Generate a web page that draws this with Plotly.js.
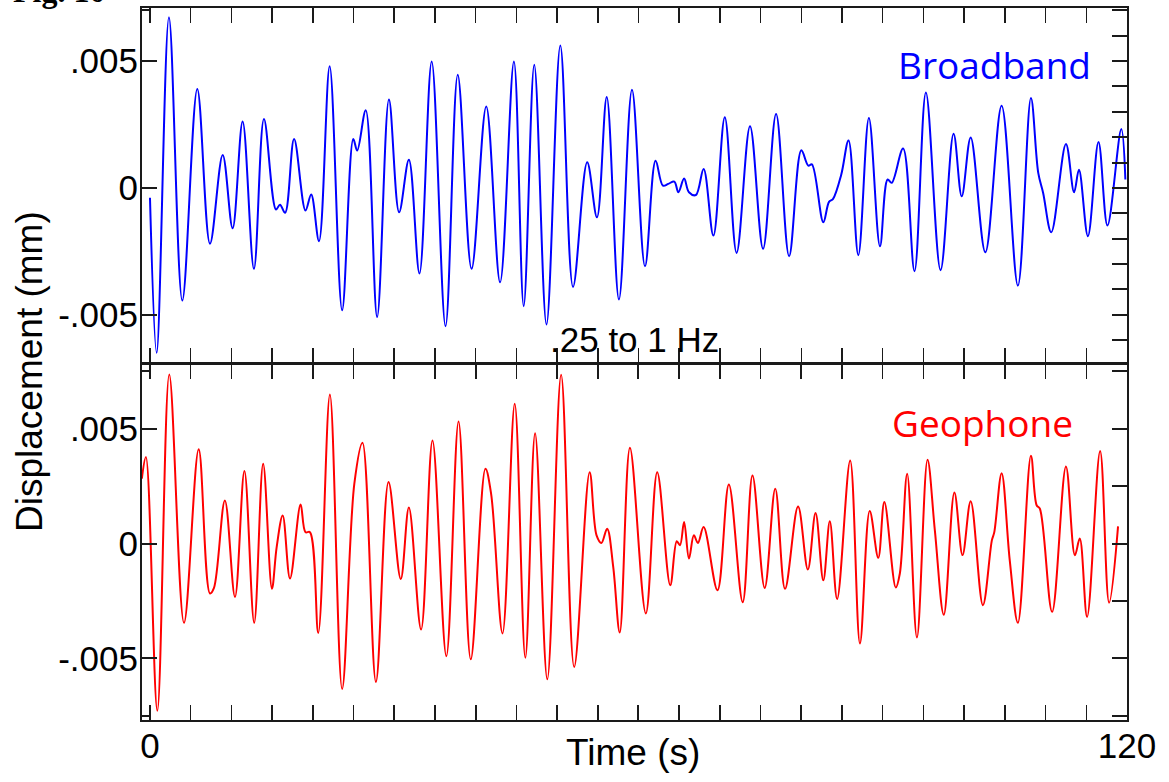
<!DOCTYPE html>
<html>
<head>
<meta charset="utf-8">
<script src="https://cdn.plot.ly/plotly-3.0.1.min.js"></script>
<style>
  html, body { margin: 0; padding: 0; background: #ffffff; }
  #chart { width: 1169px; height: 782px; }
</style>
</head>
<body>
<div id="chart"></div>
<script>
// Broadband seismometer record, 0.25–1 Hz band: time (s) and displacement (mm)
const broadbandTime = [
  0, 0.82, 2.33, 3.97, 5.81, 7.37, 8.93, 10.15, 11.38, 12.77,
  14.0, 15.48, 15.97, 16.6, 17.7, 19.1, 19.8, 20.76, 22.07, 23.6,
  24.97, 25.45, 26.5, 27.9, 29.35, 30.6, 31.8, 33.1, 34.6, 36.3,
  37.8, 39.5, 41.3, 43.0, 44.7, 45.9, 47.2, 48.7, 50.4, 51.96,
  53.7, 54.9, 56.1, 57.6, 59.2, 60.8, 62.1, 63.0, 63.66, 64.4,
  64.9, 65.6, 66.2, 67.05, 68.0, 69.2, 70.6, 72.05, 73.7, 75.3,
  76.9, 78.5, 80.0, 80.85, 81.3, 82.7, 83.4, 83.9, 84.9, 85.8,
  87.0, 88.3, 89.66, 90.6, 91.1, 92.5, 93.9, 95.3, 97.1, 98.7,
  99.7, 100.8, 102.6, 104.6, 106.6, 108.2, 109.1, 109.7, 110.7, 112.5,
  113.5, 114.1, 115.2, 116.5, 117.6, 119.3, 119.8
];
const broadbandDisp = [
  -0.00039, -0.0065, 0.00673, -0.00444, 0.0039, -0.0022, 0.0013, -0.00159, 0.00262, -0.00319,
  0.00272, -0.00085, -0.00066, -0.00098, 0.00193, -0.00089, -0.00026, -0.0021, 0.00479, -0.00482,
  0.00193, 0.00147, 0.00306, -0.00509, 0.00348, -0.00096, 0.00111, -0.00337, 0.00498, -0.00545,
  0.00446, -0.00319, 0.00321, -0.00372, 0.00498, -0.00466, 0.00485, -0.00538, 0.00561, -0.0039,
  0.00101, -0.00116, 0.00358, -0.0044, 0.00387, -0.00309, 0.00107, 0.00009, 0.00016, 0.00025,
  -0.00017, 0.00037, -0.00017, -0.00028, 0.00075, -0.00188, 0.00278, -0.00256, 0.00243, -0.0024,
  0.00291, -0.00269, 0.00148, 0.00088, 0.00093, -0.00135, -0.00055, -0.00043, 0.00052, 0.00187,
  -0.00265, 0.00276, -0.0023, 0.00033, 0.0002, 0.00155, -0.00328, 0.00376, -0.00324, 0.00213,
  -0.00033, 0.00199, -0.00254, 0.00324, -0.00385, 0.00354, 0.00059, -0.0002, -0.00175, 0.00173,
  -0.00017, 0.00072, -0.0019, 0.00181, -0.00148, 0.00232, 0.00033
];

// Geophone record over the same window
const geophoneTime = [
  -1.0, -0.5, 0.9, 2.37, 4.18, 5.98, 7.37, 7.86, 9.2, 10.44,
  11.6, 12.8, 13.9, 14.98, 15.56, 16.3, 17.2, 18.5, 19.1, 19.65,
  20.67, 22.1, 23.6, 25.1, 26.1, 27.75, 29.3, 30.8, 31.8, 33.3,
  34.7, 36.4, 37.9, 39.4, 41.2, 41.9, 43.3, 44.8, 46.1, 47.3,
  48.8, 50.5, 52.1, 54.0, 54.85, 55.45, 56.15, 56.9, 57.7, 58.95,
  60.9, 62.3, 63.9, 64.7, 65.1, 65.6, 66.2, 66.8, 67.3, 68.0,
  69.7, 71.1, 72.8, 74.0, 75.5, 76.8, 78.0, 79.6, 80.8, 81.75,
  82.7, 83.5, 84.4, 86.0, 87.2, 88.4, 89.45, 90.2, 91.6, 92.1,
  93.0, 94.2, 95.5, 96.4, 97.5, 98.8, 99.8, 100.8, 102.3, 103.4,
  103.7, 104.6, 105.6, 106.6, 108.2, 108.9, 109.3, 110.8, 112.5, 113.6,
  114.2, 115.1, 116.7, 117.8, 118.9
];
const geophoneDisp = [
  0.00283, 0.00377, -0.00728, 0.00736, -0.00345, 0.00411, -0.00217, -0.00193, 0.00188, -0.00232,
  0.00316, -0.00345, 0.00348, -0.00196, -0.00015, 0.00122, -0.00152, 0.0017, 0.0005, 0.0005,
  -0.00389, 0.00649, -0.00633, 0.00261, 0.00439, -0.00602, 0.00268, -0.00154, 0.00157, -0.00374,
  0.00449, -0.0049, 0.00532, -0.00504, 0.00326, 0.00217, -0.00391, 0.00609, -0.00497, 0.00481,
  -0.00591, 0.00735, -0.00537, 0.00311, 0.00036, 0.00003, 0.00065, -0.00102, -0.00387, 0.00417,
  -0.00304, 0.00311, -0.00181, 0.0001, -0.00007, 0.00094, -0.00065, 0.00036, 0.00003, 0.00072,
  -0.00203, 0.00258, -0.00255, 0.00297, -0.00193, 0.00239, -0.00197, 0.00162, -0.00113, 0.00133,
  -0.0016, 0.00097, -0.00241, 0.00362, -0.00435, 0.00142, -0.00062, 0.00181, -0.00191, -0.0013,
  0.00304, -0.00409, 0.00365, 0.00058, -0.0031, 0.00223, -0.0005, 0.00185, -0.00268, 0.00014,
  0.0005, 0.00307, -0.00073, -0.00345, 0.00383, 0.00167, 0.00152, -0.00297, 0.00336, -0.00051,
  0.00022, -0.00319, 0.00403, -0.00257, 0.00075
];

// Axis ticks and labels
const timeTicks = [0, 20, 40, 60, 80, 100, 120];
const timeTickText = ['0', '', '', '', '', '', '120'];
const dispTicks = [-0.005, 0, 0.005];
const dispTickText = ['-.005', '0', '.005'];

const INK = '#1a1a1a';
const LABEL_FONT = { family: 'Liberation Sans, Arial, sans-serif', size: 35, color: '#000' };

const traces = [
  {
    x: broadbandTime, y: broadbandDisp, xaxis: 'x', yaxis: 'y',
    type: 'scatter', mode: 'lines',
    line: { color: '#0000ff', width: 2, shape: 'spline', smoothing: 1 },
    hoverinfo: 'skip', showlegend: false
  },
  {
    x: geophoneTime, y: geophoneDisp, xaxis: 'x2', yaxis: 'y2',
    type: 'scatter', mode: 'lines',
    line: { color: '#ff0000', width: 2, shape: 'spline', smoothing: 1 },
    hoverinfo: 'skip', showlegend: false
  },
  // empty traces so the right-hand tick axes get their own subplots
  { x: [], y: [], xaxis: 'x', yaxis: 'y3', type: 'scatter', mode: 'lines', showlegend: false, hoverinfo: 'skip' },
  { x: [], y: [], xaxis: 'x2', yaxis: 'y4', type: 'scatter', mode: 'lines', showlegend: false, hoverinfo: 'skip' }
];

const xRange = [-0.98, 120];
const topRange = [-0.00688, 0.00709];
const botRange = [-0.00768, 0.0078];
// the two panels overlap slightly so their shared frame edge is one line
const topDomain = [0.5021, 1];
const botDomain = [0, 0.4993];

function timeAxis(anchor, labels) {
  return {
    anchor: anchor, domain: [0, 1], range: xRange,
    tickmode: 'array', tickvals: timeTicks, ticktext: timeTickText,
    showticklabels: labels, tickfont: LABEL_FONT, ticklabelstandoff: -6,
    ticks: 'inside', ticklen: 15, tickwidth: 2, tickcolor: INK,
    minor: { tickmode: 'linear', tick0: 0, dtick: 5, ticks: 'inside', ticklen: 8, tickwidth: 1.5, tickcolor: INK, showgrid: false },
    showline: true, linewidth: 2, linecolor: INK, mirror: 'allticks',
    showgrid: false, zeroline: false, fixedrange: true
  };
}

function dispAxis(anchor, domain, range, edgeTicks) {
  return {
    anchor: anchor, domain: domain, range: range,
    tickmode: 'array', tickvals: dispTicks, ticktext: dispTickText,
    tickfont: LABEL_FONT, ticklabelstandoff: -5,
    ticks: 'inside', ticklen: 15, tickwidth: 2, tickcolor: INK,
    minor: { tickmode: 'array', tickvals: edgeTicks, ticks: 'inside', ticklen: 7, tickwidth: 2, tickcolor: INK, showgrid: false },
    showline: true, linewidth: 2, linecolor: INK, mirror: true,
    showgrid: false, zeroline: false, fixedrange: true
  };
}

function rightTicks(over, anchor, range, step) {
  return {
    overlaying: over, anchor: anchor, side: 'right', range: range,
    tickmode: 'linear', tick0: 0, dtick: step,
    ticks: 'inside', ticklen: 15, tickwidth: 2, tickcolor: INK,
    showticklabels: false, showline: false, showgrid: false, zeroline: false, fixedrange: true
  };
}

const layout = {
  width: 1169, height: 782,
  margin: { l: 142, r: 42, t: 8, b: 62, pad: 0 },
  paper_bgcolor: '#ffffff', plot_bgcolor: '#ffffff',
  showlegend: false,
  xaxis: timeAxis('y', false),
  xaxis2: Object.assign(timeAxis('y2', true), { matches: 'x' }),
  yaxis: dispAxis('x', topDomain, topRange, [0.007]),
  yaxis2: dispAxis('x2', botDomain, botRange, [0.0075, -0.0075]),
  yaxis3: rightTicks('y', 'x', topRange, 0.001),
  yaxis4: rightTicks('y2', 'x2', botRange, 0.0025),
  annotations: [
    // figure caption, running off the top edge of the page
    { text: '<b>Fig. 10</b>', xref: 'paper', yref: 'paper', x: -0.133, y: 0.9958,
      xanchor: 'left', yanchor: 'bottom', showarrow: false,
      font: { family: 'Liberation Serif, Times New Roman, serif', size: 32, color: '#000' } },
    { text: 'Broadband', xref: 'paper', yref: 'paper', x: 0.865, y: 0.920,
      xanchor: 'center', yanchor: 'middle', showarrow: false,
      font: { family: 'Open Sans, sans-serif', size: 37, color: '#0000ff' } },
    { text: 'Geophone', xref: 'paper', yref: 'paper', x: 0.8528, y: 0.418,
      xanchor: 'center', yanchor: 'middle', showarrow: false,
      font: { family: 'Open Sans, sans-serif', size: 37, color: '#ff0000' } },
    { text: '.25 to 1 Hz', xref: 'paper', yref: 'paper', x: 0.5005, y: 0.535,
      xanchor: 'center', yanchor: 'middle', showarrow: false,
      font: { family: 'Liberation Sans, Arial, sans-serif', size: 35, color: '#000' } },
    { text: 'Displacement (mm)', xref: 'paper', yref: 'paper', x: -0.1137, y: 0.4888,
      xanchor: 'center', yanchor: 'middle', textangle: -90, showarrow: false,
      font: { family: 'Liberation Sans, Arial, sans-serif', size: 37, color: '#000' } },
    { text: 'Time (s)', xref: 'paper', yref: 'paper', x: 0.4985, y: -0.0463,
      xanchor: 'center', yanchor: 'middle', showarrow: false,
      font: { family: 'Liberation Sans, Arial, sans-serif', size: 37, color: '#000' } }
  ]
};

Plotly.newPlot('chart', traces, layout, { staticPlot: true, displayModeBar: false });
</script>
</body>
</html>
